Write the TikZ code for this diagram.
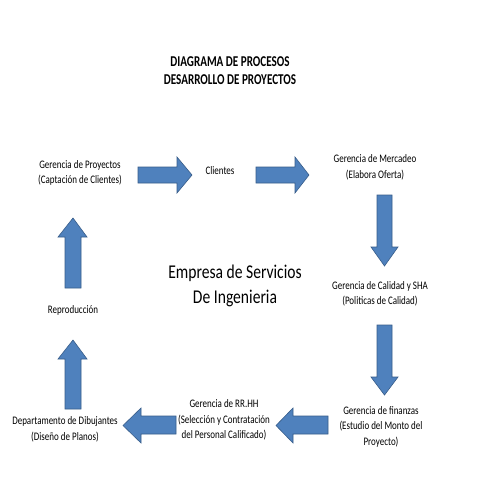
\documentclass[tikz,border=0pt]{standalone}
\usepackage{fontspec}
\setmainfont{Carlito}
\newfontfamily\condsmall[FakeStretch=0.78]{Carlito}
\newfontfamily\condtitle[FakeStretch=0.74]{Carlito}
\newfontfamily\condbig[FakeStretch=0.8]{Carlito}
\begin{document}
\begin{tikzpicture}[x=1pt,y=-1pt,
  blk/.style={fill={rgb,255:red,79;green,129;blue,189},draw={rgb,255:red,56;green,93;blue,138},line width=0.6pt,line join=miter},
  lbl/.style={align=center,font=\condsmall\fontsize{11.5}{15.5}\selectfont,inner sep=0pt},
  ttl/.style={align=center,font=\condtitle\fontsize{15}{18}\selectfont\bfseries,inner sep=0pt},
  big/.style={align=center,font=\condbig\fontsize{19.5}{25}\selectfont,inner sep=0pt}]
\useasboundingbox (0,0) rectangle (480,480);
\fill[white] (0,0) rectangle (480,480);
% texts
\node[ttl] (title) at (230,71) {DIAGRAMA DE PROCESOS\\DESARROLLO DE PROYECTOS};
\node[big] (emp) at (235,286) {Empresa de Servicios\\De Ingenieria};
\node[lbl] (gp) at (80,173) {Gerencia de Proyectos\\(Captación de Clientes)};
\node[lbl] (cl) at (220,171) {Clientes};
\node[lbl] (gm) at (375,167.5) {Gerencia de Mercadeo\\(Elabora Oferta)};
\node[lbl] (gc) at (380,294) {Gerencia de Calidad y SHA\\(Politicas de Calidad)};
\node[lbl] (gf) at (381,426.5) {Gerencia de finanzas\\(Estudio del Monto del\\Proyecto)};
\node[lbl] (rh) at (224,420) {Gerencia de RR.HH\\(Selección y Contratación\\del Personal Calificado)};
\node[lbl] (dd) at (65,429.5) {Departamento de Dibujantes\\(Diseño de Planos)};
\node[lbl] (rp) at (73,310) {Reproducción};
% block arrows
\draw[blk] (138,167)--(177,167)--(177,157)--(192,175)--(177,193)--(177,183)--(138,183)--cycle;
\draw[blk] (256,167)--(295,167)--(295,157)--(309,175)--(295,193)--(295,183)--(256,183)--cycle;
\draw[blk] (377,195)--(392,195)--(392,247)--(398,247)--(384.5,266)--(371,247)--(377,247)--cycle;
\draw[blk] (377,325)--(392,325)--(392,377)--(398,377)--(384.5,395)--(371,377)--(377,377)--cycle;
\draw[blk] (328,416)--(293,416)--(293,408)--(276,425.5)--(293,443)--(293,434)--(328,434)--cycle;
\draw[blk] (176,416)--(141,416)--(141,408)--(123,425.5)--(141,443)--(141,434)--(176,434)--cycle;
\draw[blk] (65,409)--(65,359)--(58,359)--(73,340)--(87,359)--(81,359)--(81,409)--cycle;
\draw[blk] (65,288)--(65,237)--(58,237)--(73,218)--(87,237)--(81,237)--(81,288)--cycle;
\end{tikzpicture}
\end{document}
